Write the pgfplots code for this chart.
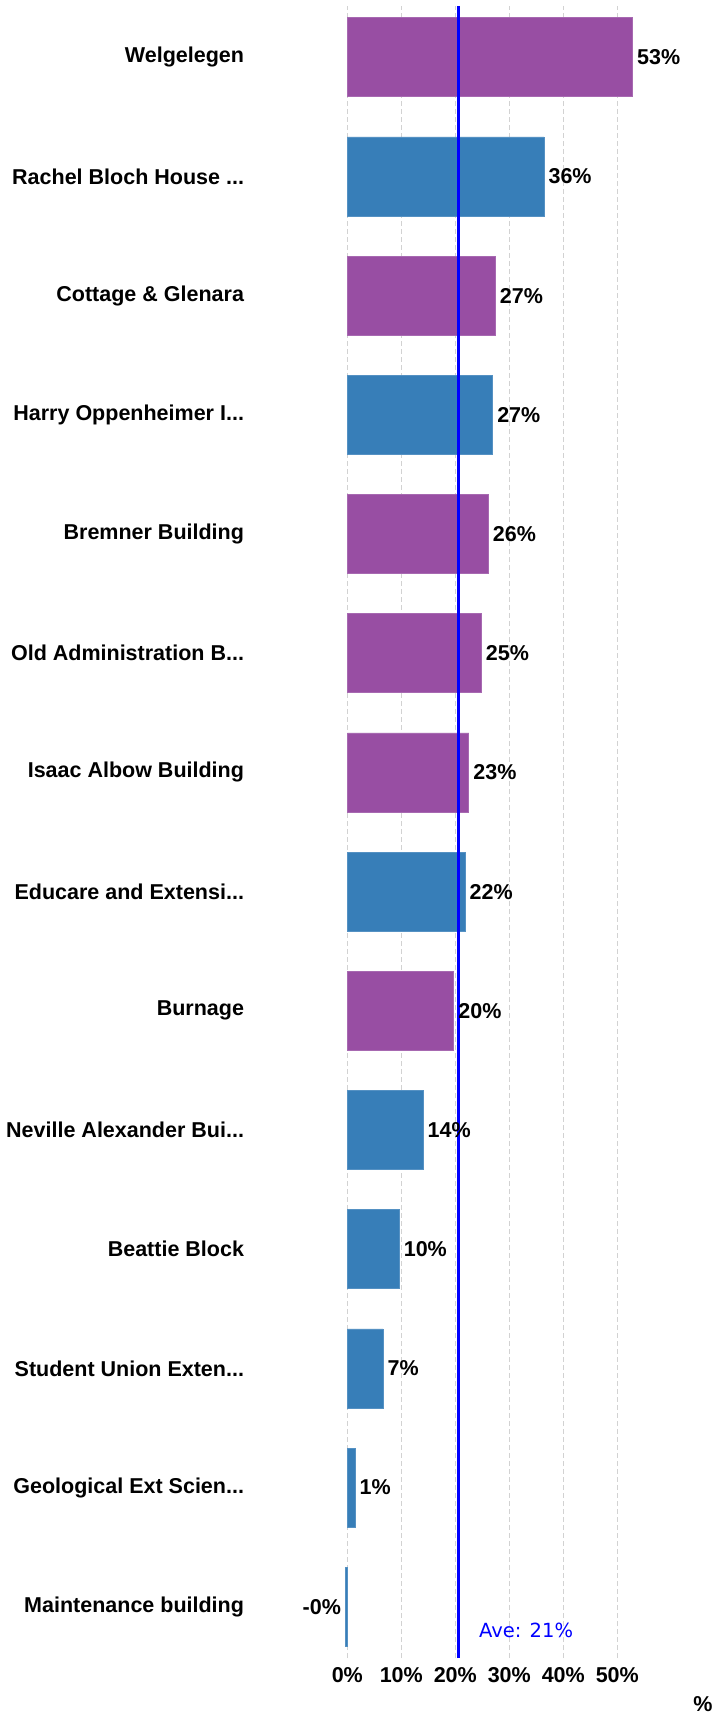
\documentclass[border=0pt]{standalone}
\usepackage{fontspec}
\setmainfont{Liberation Sans}
\newfontfamily\avefont{DejaVu Sans}
\usepackage{pgfplots}
\pgfplotsset{compat=1.18}
\usepackage{pgfplotstable}
\definecolor{barpurple}{RGB}{152,78,163}
\definecolor{barblue}{RGB}{55,126,184}
\definecolor{gridgray}{RGB}{210,210,210}

\pgfplotstableread{
y x label
13 52.8 53
11 27.4 27
9 26.1 26
8 24.8 25
7 22.5 23
5 19.7 20
}\purpledata
\pgfplotstableread{
y x label
12 36.4 36
10 26.9 27
6 21.8 22
4 14.0 14
3 9.6 10
2 6.6 7
1 1.4 1
}\bluedata
\pgfplotstableread{
y x label
0 -0.3 -0
}\negdata

\newcommand{\bigbold}{\bfseries\fontsize{21.5}{25}\selectfont}
\newcommand{\ddd}{...}

\begin{document}
\begin{tikzpicture}
\path[use as bounding box] (-347.3pt,-55pt) rectangle (367.7pt,1658pt);
\begin{axis}[
  at={(0pt,0pt)}, anchor=south west,
  scale only axis, width=297pt, height=1652pt,
  xmin=0, xmax=55, ymin=-0.43, ymax=13.43,
  clip=false,
  axis line style={draw=none},
  tick style={draw=none},
  xtick={0,10,20,30,40,50},
  xticklabels={0\%,10\%,20\%,30\%,40\%,50\%},
  xticklabel style={font=\bigbold, inner sep=0pt, anchor=north, yshift=-9.5pt},
  ytick={0,1,2,3,4,5,6,7,8,9,10,11,12,13},
  yticklabels={Maintenance building, Geological Ext Scien\ddd, Student Union Exten\ddd, Beattie Block, Neville Alexander Bui\ddd, Burnage, Educare and Extensi\ddd, Isaac Albow Building, Old Administration B\ddd, Bremner Building, Harry Oppenheimer I\ddd, Cottage \& Glenara, Rachel Bloch House \ddd, Welgelegen},
  yticklabel style={font=\bigbold, anchor=east, inner sep=0pt, outer sep=0pt, xshift=-103.3pt},
  xmajorgrids,
  major grid style={gridgray, line width=1.5pt, dash pattern=on 5pt off 3pt},
  xlabel={\%},
  xlabel style={at={(axis description cs:1,0)}, anchor=center, xshift=58.7pt, yshift=-46pt, font=\bigbold, inner sep=0pt},
  lbl/.style={xbar, bar width=79pt, bar shift=0pt, draw=none, fill=none,
    point meta=explicit symbolic,
    nodes near coords={\pgfplotspointmeta\%},
    every node near coord/.append style={font=\bigbold, text=black, inner xsep=4.5pt, inner ysep=0pt, anchor=#1}},
]
\addplot[xbar, bar width=79pt, bar shift=0pt, fill=barpurple, draw=barpurple!85!white, line width=0.6pt] table[x=x, y=y] {\purpledata};
\addplot[xbar, bar width=79pt, bar shift=0pt, fill=barblue, draw=barblue!85!white, line width=0.6pt] table[x=x, y=y] {\bluedata};
\addplot[xbar, bar width=79pt, bar shift=0pt, fill=barblue, draw=barblue!85!white, line width=0.6pt] table[x=x, y=y] {\negdata};
\addplot[blue, line width=3pt] coordinates {(20.55,-0.43) (20.55,13.43)};
\addplot[lbl=west] table[x=x, y=y, meta=label] {\purpledata};
\addplot[lbl=west] table[x=x, y=y, meta=label] {\bluedata};
\addplot[lbl=east] table[x=x, y=y, meta=label] {\negdata};
\node[anchor=base west, inner sep=0pt, text=blue, font=\avefont\fontsize{19.5}{23}\selectfont, xshift=20.7pt, yshift=21pt] at (axis cs:20.55,-0.43) {Ave: 21\%};
\end{axis}
\end{tikzpicture}
\end{document}
